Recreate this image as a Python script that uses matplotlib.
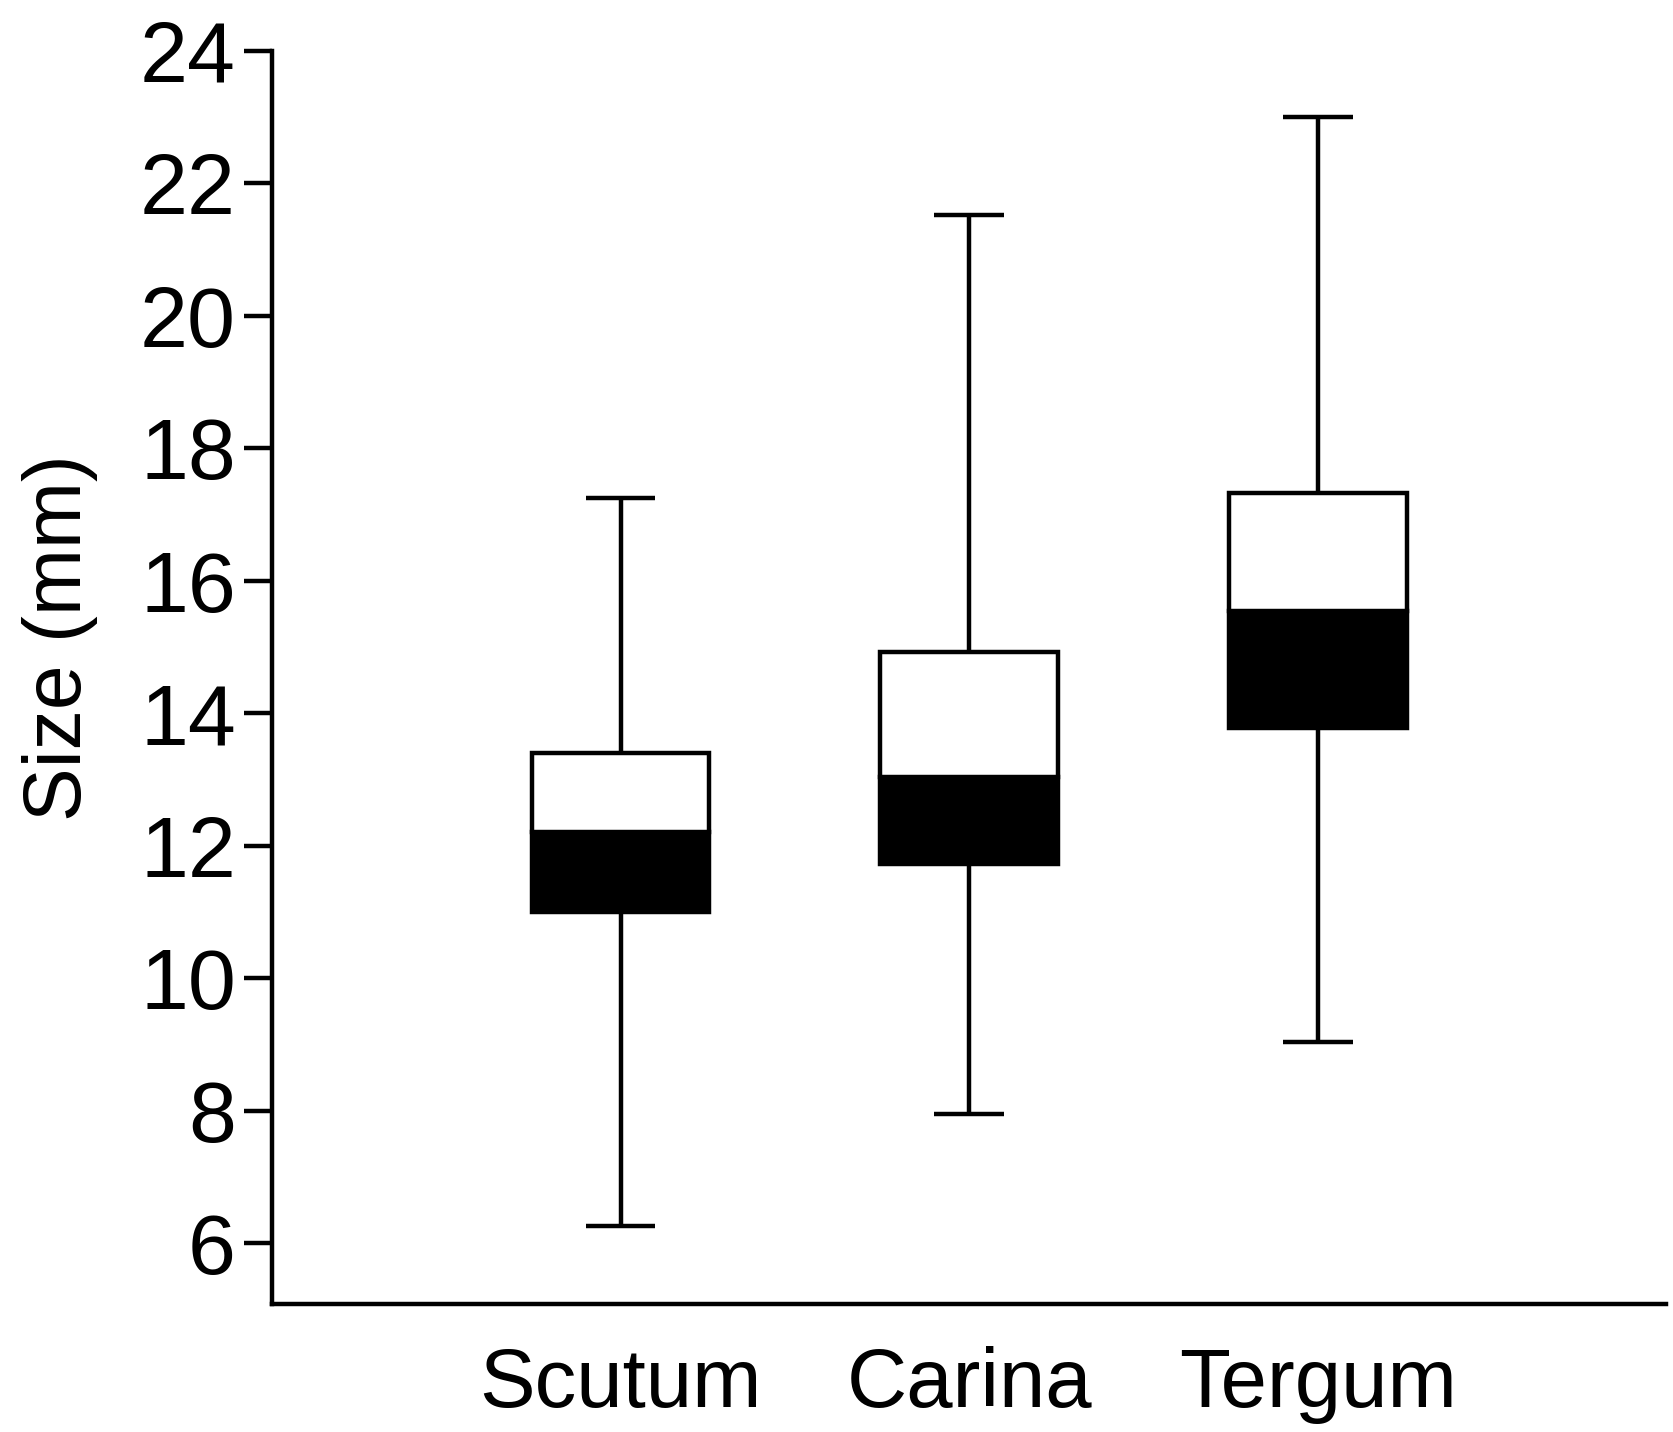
import numpy as np
import matplotlib.pyplot as plt

# Box summary (mm)
groups = ['Scutum', 'Carina', 'Tergum']
whisker_low = [6.25, 7.95, 9.03]
q1 = [11.0, 11.72, 13.78]
median = [12.2, 13.03, 15.55]
q3 = [13.4, 14.92, 17.33]
whisker_high = [17.25, 21.52, 23.0]

plt.rcParams['font.family'] = ['Liberation Sans', 'DejaVu Sans']

fig = plt.figure(figsize=(16.73, 14.32), dpi=100)
ax = fig.add_axes([0.1626, 0.0894, 0.8334, 0.875])

pos = np.arange(1, len(groups) + 1)
lw = 3.2
box_w = 0.51
cap_w = 0.2

# whiskers
ax.vlines(pos, whisker_low, q1, color='black', lw=lw, zorder=1)
ax.vlines(pos, q3, whisker_high, color='black', lw=lw, zorder=1)
ax.hlines(whisker_low, pos - cap_w / 2, pos + cap_w / 2, color='black', lw=lw)
ax.hlines(whisker_high, pos - cap_w / 2, pos + cap_w / 2, color='black', lw=lw)

# box: lower part (q1-median) black, upper part (median-q3) white
q1 = np.array(q1)
median = np.array(median)
q3 = np.array(q3)
ax.bar(pos, median - q1, bottom=q1, width=box_w, color='black',
       edgecolor='black', linewidth=lw, zorder=2)
ax.bar(pos, q3 - median, bottom=median, width=box_w, color='white',
       edgecolor='black', linewidth=lw, zorder=2)

ax.set_xlim(0, 4)
ax.set_ylim(5.08, 24)
ax.set_yticks(np.arange(6, 25, 2))
ax.set_xticks(pos)
ax.set_xticklabels(groups, fontsize=60)
ax.tick_params(axis='x', length=0, pad=30)
ax.tick_params(axis='y', labelsize=62, length=20, width=lw, direction='out', pad=6)
ax.set_ylabel('Size (mm)', fontsize=58, va='center')
ax.yaxis.set_label_coords(-0.152, 0.532)

for s in ['top', 'right']:
    ax.spines[s].set_visible(False)
for s in ['left', 'bottom']:
    ax.spines[s].set_linewidth(lw)

fig.savefig('out.png', dpi=100)
